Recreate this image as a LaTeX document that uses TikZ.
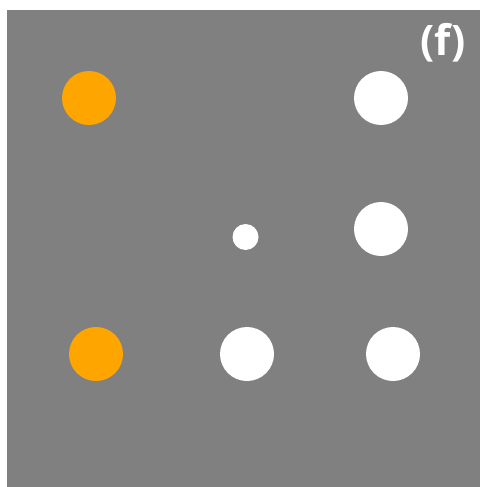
\documentclass[tikz,border=0pt]{standalone}
\usepackage{fontspec}
\newfontfamily\labelfont{Open Sans}
\usepackage{tikz}
\definecolor{dotorange}{HTML}{FFA500}

\begin{document}
\begin{tikzpicture}[x=1pt, y=-1pt]
	% --- Parametri ---
	\def\bigR{27}
	\def\smallR{13}
	
	% --- Stili ---
	\tikzset{
		panel/.style={fill=black!50, draw=none},
		orange_dot/.style={circle, fill=dotorange, draw=none, inner sep=0pt, minimum size=2*\bigR},
		white_dot/.style={circle, fill=white, draw=none, inner sep=0pt, minimum size=2*\bigR},
		small_dot/.style={circle, fill=white, draw=none, inner sep=0pt, minimum size=2*\smallR}
	}
	
	% --- Sfondo ---
	\useasboundingbox (0,0) rectangle (480,487);
	\fill[panel] (7,10) rectangle (480,487);
	
	% --- Punti ---
	\node[orange_dot] (o1) at (89,98) {};
	\node[white_dot] (w1) at (381,98) {};
	\node[small_dot] (s1) at (245.5,237) {};
	\node[white_dot] (w2) at (381,229) {};
	\node[orange_dot] (o2) at (96,354) {};
	\node[white_dot] (w3) at (247,354) {};
	\node[white_dot] (w4) at (393,354) {};
	
	% --- Etichetta ---
	\node[text=white, font=\labelfont\bfseries\fontsize{42}{42}\selectfont] (tag) at (443,43) {(f)};
\end{tikzpicture}
\end{document}
